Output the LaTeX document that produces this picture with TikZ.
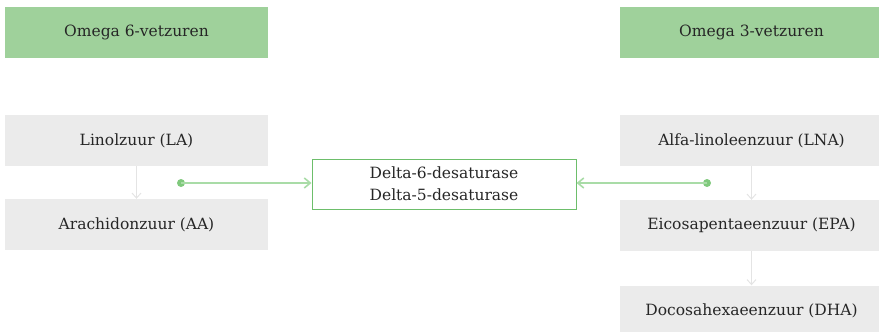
\documentclass[tikz,border=0pt]{standalone}
\usepackage{fontspec}
\setmainfont{DejaVu Serif}
\usetikzlibrary{arrows.meta}
\definecolor{hdgreen}{HTML}{9FD19B}
\definecolor{boxgray}{HTML}{EBEBEB}
\definecolor{edgegreen}{HTML}{6DBE6B}
\definecolor{linegreen}{HTML}{A9DCA7}
\definecolor{dotgreen}{HTML}{80C97D}
\definecolor{arrowgray}{HTML}{E4E4E4}
\definecolor{txt}{HTML}{262626}
\tikzset{
  base/.style={minimum width=263pt, inner sep=0pt, text=txt, font=\fontsize{15.5}{22}\selectfont, align=center},
  header/.style={base, fill=hdgreen, minimum height=51pt},
  acid/.style={base, fill=boxgray, minimum height=51pt},
  enzyme/.style={base, draw=edgegreen, line width=1pt, minimum width=264pt, minimum height=50pt, fill=white},
  flow/.style={draw=arrowgray, line width=1pt, -{Straight Barb[length=5pt,width=9pt]}},
  link/.style={draw=linegreen, line width=1.6pt, -{Straight Barb[length=6pt,width=10pt]}},
  dot/.style={circle, fill=dotgreen, inner sep=0pt, minimum size=8pt}
}
\begin{document}
\begin{tikzpicture}[x=1pt,y=-1pt]
\useasboundingbox (0,0) rectangle (879,332);
\node[header] (o6) at (136.5,32.5) {Omega 6-vetzuren};
\node[header] (o3) at (751.5,32.5) {Omega 3-vetzuren};
\node[acid] (la) at (136.5,140.5) {Linolzuur (LA)};
\node[acid] (aa) at (136.5,224.5) {Arachidonzuur (AA)};
\node[acid] (lna) at (751.5,140.5) {Alfa-linoleenzuur (LNA)};
\node[acid] (epa) at (751.5,225.5) {Eicosapentaeenzuur (EPA)};
\node[acid] (dha) at (751.5,311) {Docosahexaeenzuur (DHA)};
\node[enzyme] (enz) at (444,184) {Delta-6-desaturase\\Delta-5-desaturase};
\node[dot] (dl) at (181,183) {};
\node[dot] (dr) at (707,183) {};
\draw[flow] (la) -- (aa);
\draw[flow] (lna) -- (epa);
\draw[flow] (epa) -- (dha);
\draw[link] (dl.center) -- (enz.west |- dl);
\draw[link] (dr.center) -- (enz.east |- dr);
\end{tikzpicture}
\end{document}
